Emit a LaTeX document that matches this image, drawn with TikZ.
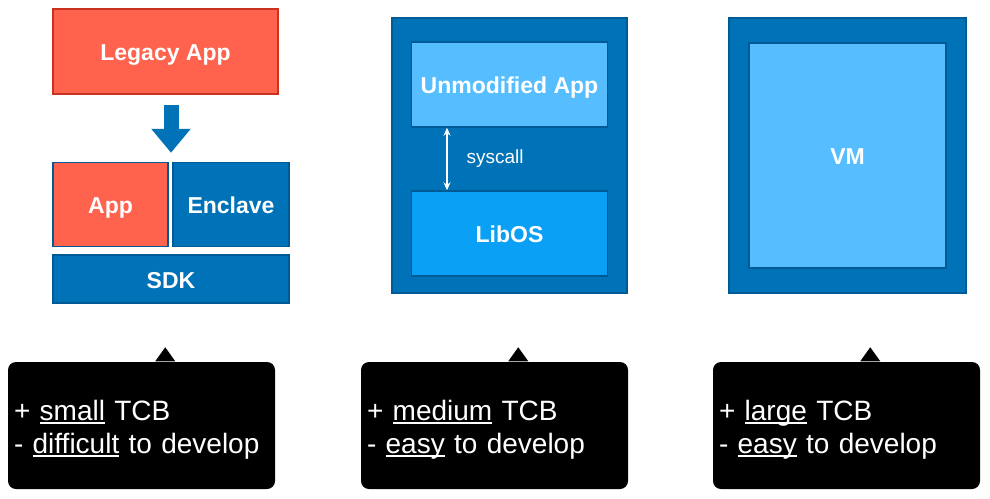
\documentclass[tikz,border=0pt]{standalone}
\usepackage{fontspec}
\setmainfont{Liberation Sans}
\newsavebox{\uwordbox}
\newcommand{\uword}[1]{\sbox{\uwordbox}{#1}\rlap{\rule[-3.6pt]{\wd\uwordbox}{1.4pt}}\usebox{\uwordbox}}
\usetikzlibrary{arrows.meta,positioning,calc}
\definecolor{appred}{HTML}{FF624D}
\definecolor{appredline}{HTML}{C8321E}
\definecolor{encblue}{HTML}{0072B8}
\definecolor{encblueline}{HTML}{005A96}
\definecolor{lightblue}{HTML}{56BEFF}
\definecolor{osblue}{HTML}{0AA0F5}

\begin{document}
\begin{tikzpicture}[x=1pt,y=-1pt,line width=1.5pt,
  box/.style={draw,inner sep=0pt,text=white,text height=18pt,text depth=0pt,
    font=\fontsize{23}{26}\selectfont\bfseries},
  red box/.style={box,fill=appred,draw=appredline},
  blue box/.style={box,fill=encblue,draw=encblueline},
  big arrow/.style={encblue,line width=15pt,-{Triangle[width=38pt,length=24pt]}},
  note/.style={fill=black,rounded corners=8pt,minimum width=267pt,minimum height=127pt},
  note text/.style={text=white,inner sep=0pt,text width=255pt,align=left,
    font=\fontsize{28}{33}\selectfont}]
  \useasboundingbox (0,0) rectangle (990,498);

  \node[red box,minimum width=225pt,minimum height=85pt] (legacy) at (165.5,51.5) {Legacy App};
  \node[blue box,minimum width=236pt,minimum height=48pt] (sdk) at (171,279) {SDK};
  \node[red box,draw=encblueline,minimum width=115pt,minimum height=84pt,
    above right=7pt and 0pt of sdk.north west] (app) {App};
  \node[blue box,minimum width=116pt,minimum height=84pt,
    above left=7pt and 0pt of sdk.north east] (enclave) {Enclave};
  \draw[big arrow,shorten <=10pt,shorten >=9pt] (legacy.south -| sdk.north) -- (app.north -| sdk.north);

  \node[blue box,minimum width=235pt,minimum height=275pt] (host) at (509.5,155.5) {};
  \node[box,fill=lightblue,draw=encblueline,minimum width=196pt,minimum height=85pt,
    below=24pt of host.north] (unmod) {Unmodified App};
  \node[box,fill=osblue,draw=encblueline,minimum width=196pt,minimum height=85pt,
    above=17pt of host.south] (libos) {LibOS};
  \coordinate (sc) at (447,0);
  \draw[white,line width=1.2pt,{Stealth[length=8pt,width=7pt]}-{Stealth[length=8pt,width=7pt]}]
    (unmod.south -| sc) -- (libos.north -| sc)
    node[midway,right=19pt,inner sep=0pt,font=\fontsize{19}{23}\selectfont] (syscall) {syscall};

  \node[blue box,minimum width=237pt,minimum height=275pt] (vmhost) at (847.5,155.5) {};
  \node[box,fill=lightblue,draw=encblueline,minimum width=197pt,minimum height=225pt] (vm) at (vmhost) {VM};

  \node[note] (note1) at (141.5,425.5) {};
  \node[note] (note2) at (494.5,425.5) {};
  \node[note] (note3) at (846.5,425.5) {};
  \fill ($(note1.north west)+(148,0)$) -- ++(10,-14) -- ++(10,14) -- cycle;
  \fill ($(note2.north west)+(148,0)$) -- ++(10,-14) -- ++(10,14) -- cycle;
  \fill ($(note3.north west)+(148,0)$) -- ++(10,-14) -- ++(10,14) -- cycle;
  \node[note text,yshift=-4pt] (text1) at (note1) {+ \uword{small} TCB\\- \uword{difficult} to develop};
  \node[note text,yshift=-4pt] (text2) at (note2) {+ \uword{medium} TCB\\- \uword{easy} to develop};
  \node[note text,yshift=-4pt] (text3) at (note3) {+ \uword{large} TCB\\- \uword{easy} to develop};
\end{tikzpicture}
\end{document}
